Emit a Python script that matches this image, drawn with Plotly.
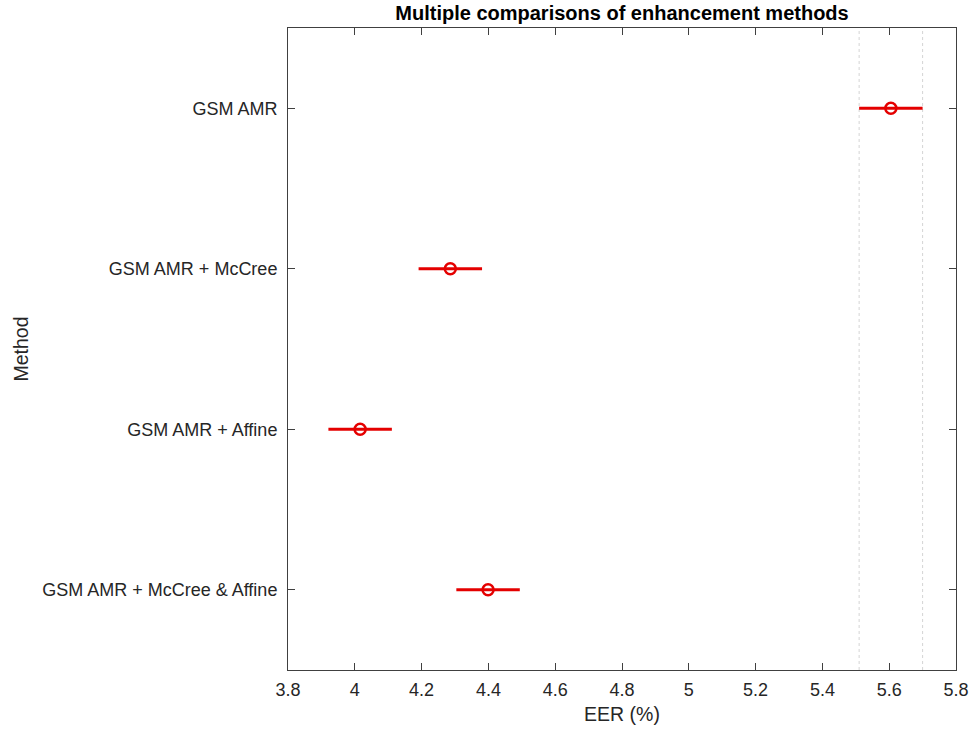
import plotly.graph_objects as go

methods = ["GSM AMR", "GSM AMR + McCree", "GSM AMR + Affine", "GSM AMR + McCree & Affine"]
eer_mean = [5.605, 4.286, 4.016, 4.399]
half_width = [0.095, 0.095, 0.095, 0.095]

order = methods[::-1]  # bottom to top
red = "rgb(228,0,0)"
axis_col = "#404040"
text_col = "#262626"

fig = go.Figure()

fig.add_trace(go.Scatter(
    x=eer_mean, y=methods, mode="markers",
    marker=dict(symbol="circle-open", size=11, color=red, line=dict(width=2.5)),
    error_x=dict(type="data", array=half_width, color=red, thickness=3.2, width=0),
    showlegend=False, hoverinfo="x+y",
))

# dotted reference lines at interval of selected group (first)
for v in (eer_mean[0] - half_width[0], eer_mean[0] + half_width[0]):
    fig.add_vline(x=v, line=dict(color="#d4d4d4", width=1, dash="dot"), layer="below")

fig.update_layout(
    width=975, height=736,
    margin=dict(l=288, r=19, t=28, b=66),
    paper_bgcolor="white", plot_bgcolor="white",
    font=dict(family="Liberation Sans, Arial, sans-serif", size=18, color=text_col),
    title=dict(text="<b>Multiple comparisons of enhancement methods</b>",
               x=(288 + 956) / 2 / 975, xanchor="center",
               y=1 - 13 / 736, yanchor="middle", yref="container",
               font=dict(size=20, color="black")),
)
fig.update_xaxes(
    range=[3.8, 5.8], tickvals=[3.8, 4, 4.2, 4.4, 4.6, 4.8, 5, 5.2, 5.4, 5.6, 5.8],
    ticktext=["3.8", "4", "4.2", "4.4", "4.6", "4.8", "5", "5.2", "5.4", "5.6", "5.8"],
    ticks="inside", ticklen=7, tickcolor=axis_col, tickwidth=1,
    showline=True, linecolor=axis_col, linewidth=1, mirror="allticks",
    showgrid=False, zeroline=False, ticklabelstandoff=3, automargin=False,
    title=dict(text="EER (%)", standoff=8, font=dict(size=19.5)),
)
fig.update_yaxes(
    type="category", categoryorder="array", categoryarray=order,
    range=[-0.5, 3.5],
    ticks="inside", ticklen=7, tickcolor=axis_col, tickwidth=1,
    showline=True, linecolor=axis_col, linewidth=1, mirror="allticks",
    showgrid=False, zeroline=False, ticklabelstandoff=6, automargin=False,
    title=dict(text="Method", standoff=8, font=dict(size=19.5)),
)

fig.write_html("out.html")
